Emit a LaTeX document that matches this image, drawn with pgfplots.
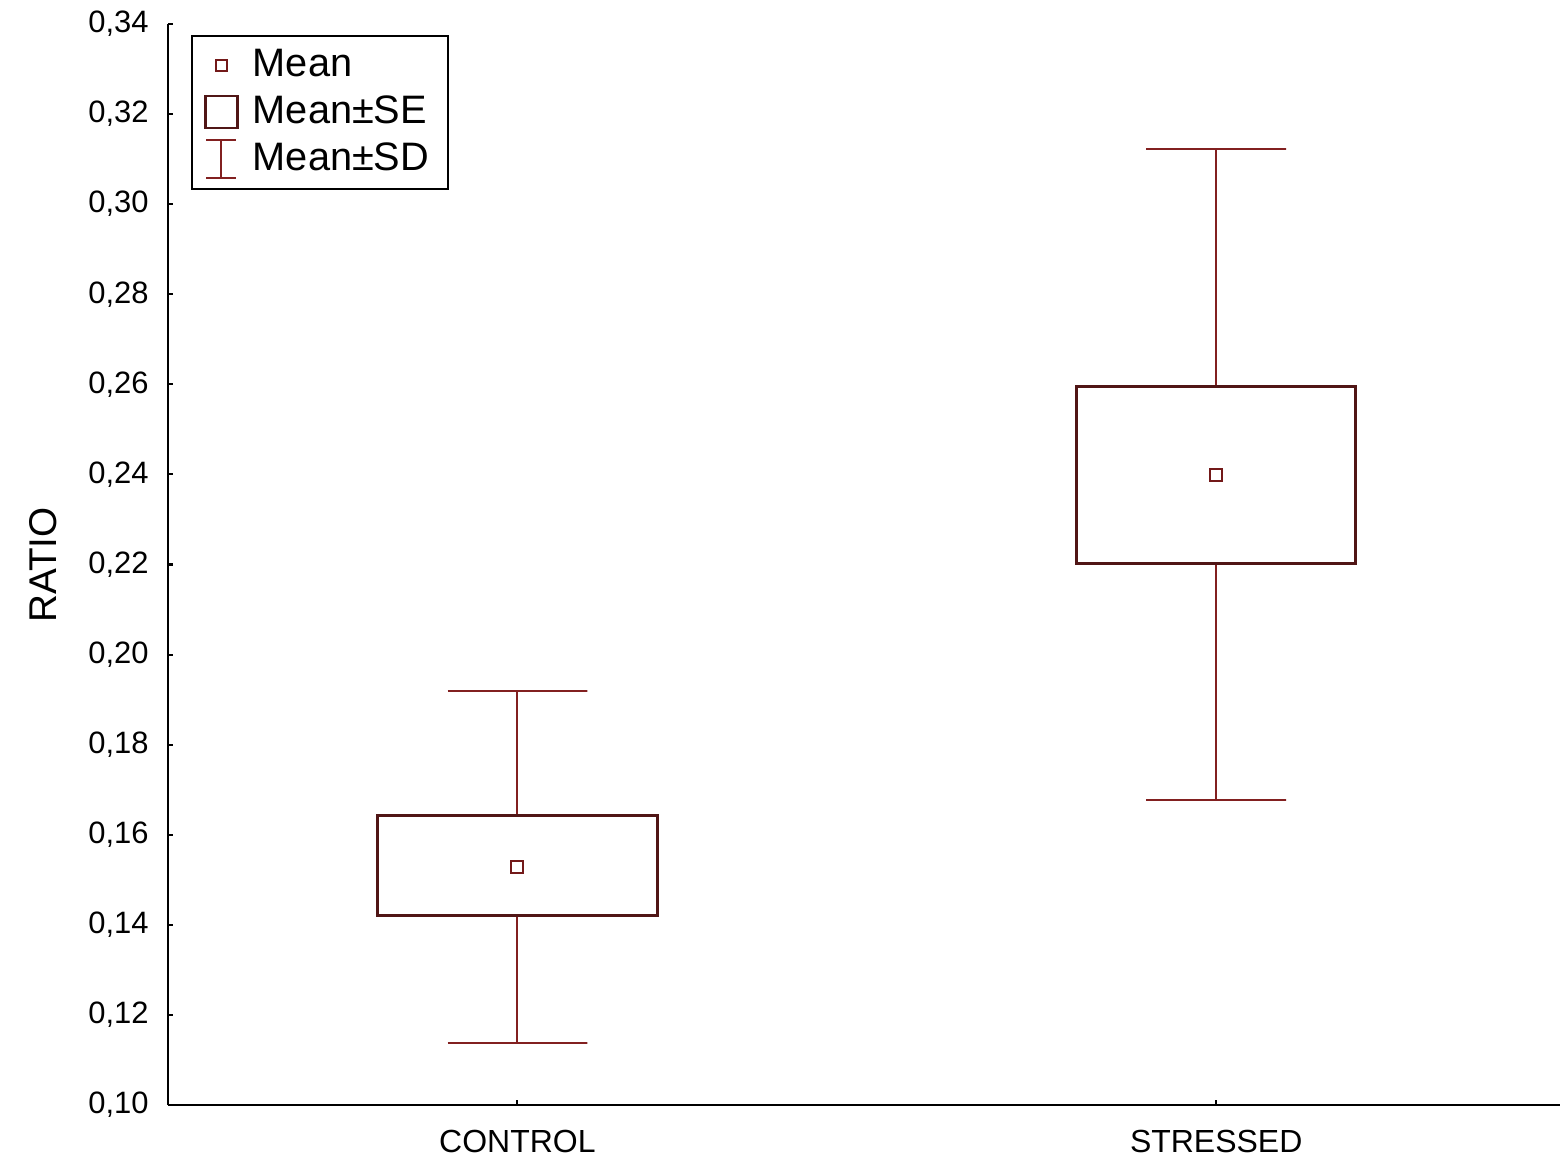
\documentclass[border=0pt]{standalone}
\usepackage{pgfplots}
\pgfplotsset{compat=1.18}
\usepackage{fontspec}
\setmainfont{Liberation Sans}
\definecolor{boxc}{RGB}{80,22,22}
\definecolor{whisk}{RGB}{130,32,32}
\definecolor{meanc}{RGB}{115,25,25}
\begin{document}
\begin{tikzpicture}
\begin{axis}[
  at={(0,0)}, anchor=south west,
  scale only axis, width=13.92cm, height=10.81cm,
  xmin=-0.5, xmax=1.492, ymin=0.10, ymax=0.34,
  axis x line=bottom, axis y line=left,
  axis line style={-, line width=0.7pt, black},
  tick style={black, line width=0.6pt},
  tick align=inside, major tick length=0.5mm,
  xtick={0,1}, xticklabels={CONTROL,STRESSED},
  ytick={0.10,0.12,0.14,0.16,0.18,0.20,0.22,0.24,0.26,0.28,0.30,0.32,0.34},
  /pgf/number format/.cd, fixed, fixed zerofill, precision=2, use comma, assume math mode=true,
  /pgfplots/.cd,
  yticklabel style={font=\fontsize{8.8}{10}\selectfont, xshift=-0.7mm},
  xticklabel style={font=\fontsize{9.1}{11}\selectfont, yshift=-1.3mm},
  ylabel={RATIO},
  ylabel style={at={(axis description cs:-0.0898,0.4995)}, anchor=center, font=\fontsize{11}{13}\selectfont},
  legend style={at={(0.0165,0.99)}, anchor=north west, draw=black, line width=0.6pt,
    font=\fontsize{11.3}{13}\selectfont, inner xsep=1.2mm, inner ysep=0.6mm,
    row sep=0mm, /tikz/every odd column/.append style={column sep=0.7mm}},
  legend cell align=left,
]
% legend
\addlegendimage{legend image code/.code={\draw[meanc, line width=0.6pt] (0.11cm,-0.055cm) rectangle (0.22cm,0.055cm);}}
\addlegendentry{Mean}
\addlegendimage{legend image code/.code={\draw[boxc, line width=0.8pt] (0cm,-0.16cm) rectangle (0.32cm,0.16cm);}}
\addlegendentry{Mean±SE}
\addlegendimage{legend image code/.code={\draw[whisk, line width=0.6pt] (0.01cm,-0.19cm) -- (0.31cm,-0.19cm) (0.16cm,-0.19cm) -- (0.16cm,0.19cm) (0.01cm,0.19cm) -- (0.31cm,0.19cm);}}
\addlegendentry{Mean±SD}
% CONTROL
\addplot[whisk, line width=0.6pt, forget plot] coordinates {(-0.1,0.1919) (0.1,0.1919) (0,0.1919) (0,0.1642)};
\addplot[whisk, line width=0.6pt, forget plot] coordinates {(-0.1,0.1138) (0.1,0.1138) (0,0.1138) (0,0.1420)};
\addplot[boxc, line width=0.85pt, line join=miter, forget plot] coordinates {(-0.2,0.1420) (0.2,0.1420) (0.2,0.1642) (-0.2,0.1642) (-0.2,0.1420)} -- cycle;
% STRESSED
\addplot[whisk, line width=0.6pt, forget plot] coordinates {(0.9,0.3123) (1.1,0.3123) (1,0.3123) (1,0.2596)};
\addplot[whisk, line width=0.6pt, forget plot] coordinates {(0.9,0.1677) (1.1,0.1677) (1,0.1677) (1,0.2203)};
\addplot[boxc, line width=0.85pt, line join=miter, forget plot] coordinates {(0.8,0.2203) (1.2,0.2203) (1.2,0.2596) (0.8,0.2596) (0.8,0.2203)} -- cycle;
% means
\addplot[only marks, mark=square, mark size=0.6mm, meanc, mark options={line width=0.6pt}, forget plot] coordinates {(0,0.1528) (1,0.2399)};
\end{axis}
\pgfresetboundingbox
\path[use as bounding box] (-1.68cm,-0.58cm) rectangle (13.92cm,11.05cm);
\end{tikzpicture}
\end{document}
